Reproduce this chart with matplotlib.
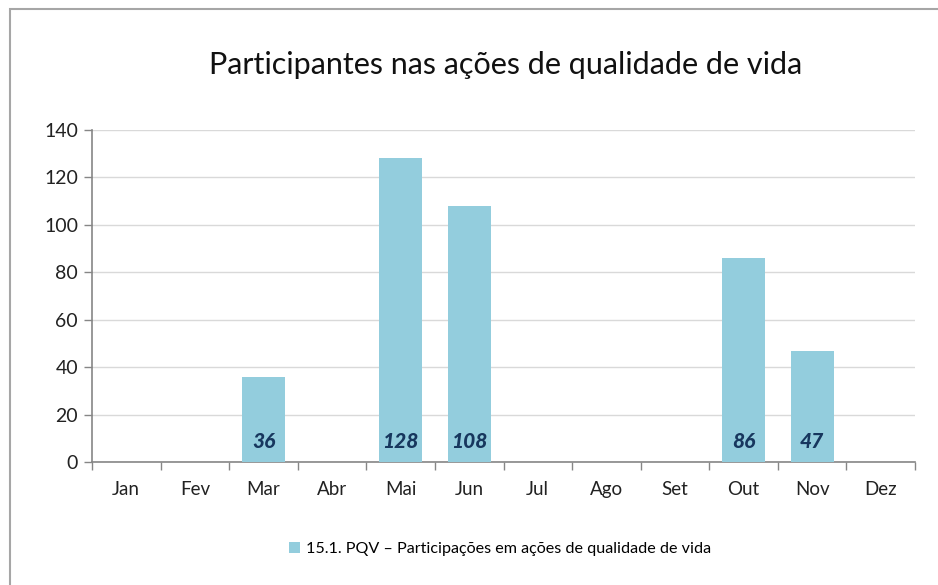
import matplotlib
matplotlib.use("Agg")
import matplotlib.pyplot as plt
from matplotlib.patches import Rectangle
import numpy as np

months = ["Jan", "Fev", "Mar", "Abr", "Mai", "Jun", "Jul", "Ago", "Set", "Out", "Nov", "Dez"]
values = [0, 0, 36, 0, 128, 108, 0, 0, 0, 86, 47, 0]
yticks = [0, 20, 40, 60, 80, 100, 120, 140]
title = "Participantes nas ações de qualidade de vida"
series_name = "15.1. PQV – Participações em ações de qualidade de vida"

plt.rcParams['font.family'] = ['Lato', 'DejaVu Sans']

W, H = 938, 585
fig = plt.figure(figsize=(W/100, H/100), dpi=100)
ax = fig.add_axes([92/W, 1-462/H, (915-92)/W, (462-130)/H])

bar_color = "#93CDDD"
x = np.arange(len(months))
bars = ax.bar(x, values, width=0.63, color=bar_color, zorder=3, label=series_name)

for xi, v in zip(x, values):
    if v > 0:
        ax.annotate(str(v), (xi, 0), xytext=(0, 15), textcoords="offset points",
                    ha="center", va="center", fontsize=15, fontweight="black",
                    fontstyle="italic", color="#17375E", zorder=4)

ax.set_xlim(-0.5, len(months) - 0.5)
ax.set_ylim(0, 140)
ax.set_yticks(yticks)
ax.set_xticks(x)
ax.set_xticklabels(months)
ax.set_xticks(np.arange(-0.5, len(months)), minor=True)
ax.tick_params(axis="x", which="major", length=0, pad=14, labelsize=13.5, labelcolor="#222222")
ax.tick_params(axis="x", which="minor", length=6, width=1, color="#868686", direction="out")
ax.tick_params(axis="y", length=6, width=1, color="#868686", labelsize=14, labelcolor="#222222", pad=4)

ax.grid(axis="y", color="#D9D9D9", linewidth=1, zorder=0)
for s in ["top", "right"]:
    ax.spines[s].set_visible(False)
for s in ["left", "bottom"]:
    ax.spines[s].set_color("#868686")
    ax.spines[s].set_linewidth(1.2)

fig.text(506/W, 1-65/H, title, ha="center", va="center", fontsize=22, color="#111111")

leg = fig.legend(handles=[bars], labels=[series_name], loc="center", bbox_to_anchor=(500/W, 1-549/H),
                 frameon=False, fontsize=11.6, handlelength=0.7, handleheight=0.7, handletextpad=0.4)

fig.patches.append(Rectangle((9.5/W, -0.1), 2, 1.1 - 9.5/H, transform=fig.transFigure,
                             fill=False, edgecolor="#A6A6A6", linewidth=1.5))

fig.savefig("out.png", dpi=100)
